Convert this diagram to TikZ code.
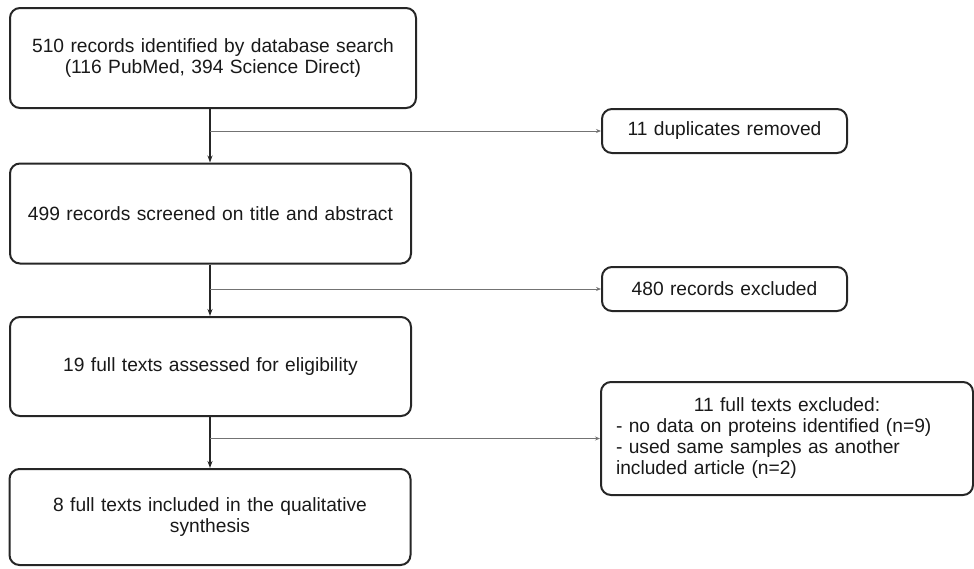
\documentclass[tikz,border=0pt]{standalone}
\usepackage{fontspec}
\setmainfont{Liberation Sans}
\usetikzlibrary{arrows.meta, positioning}
\tikzset{
x=1pt, y=-1pt, % one unit is one pixel of the sketch, y runs down
box/.style={draw=black!85, line width=2pt, rounded corners=10pt, align=center,
  text=black!90, font=\fontsize{19.2}{21}\selectfont}, % every box
mainbox/.style={box, minimum width=401pt, minimum height=100pt, text width=385pt}, % left column
sidebox/.style={box, minimum width=245pt, minimum height=44pt, text width=235pt}, % right column
down/.style={-{Stealth[length=7pt,width=5pt]}, line width=1.3pt, draw=black!85}, % main flow
aside/.style={-{Stealth[length=5pt,width=4pt]}, line width=0.8pt, draw=black!55}, % branch out
}

\begin{document}
\begin{tikzpicture}
    \useasboundingbox (0,0) rectangle (974,568);
    \node[mainbox, minimum width=406pt] (search) at (213,58) {510 records identified by database search\\(116 PubMed, 394 Science Direct)};
    \node[mainbox] (screen) at (210.5,213.5) {499 records screened on title and abstract};
    \node[mainbox, minimum height=99pt] (full) at (210.5,366.5) {19 full texts assessed for eligibility};
    \node[mainbox, minimum height=96pt] (incl) at (210,517) {8 full texts included in the qualitative\\synthesis};
    \node[sidebox] (dupl) at (724.5,131) {11 duplicates removed};
    \node[sidebox] (excl) at (724.5,289) {480 records excluded};
    \node[box, align=left, text width=342pt, inner xsep=15pt, minimum height=113pt] (ftex) at (787,438.5)
      {\makebox[342pt]{11 full texts excluded:}\\
       - no data on proteins identified (n=9)\\
       - used same samples as another\\
       included article (n=2)};
    \coordinate (s1) at (210,131);
    \coordinate (s2) at (210,289);
    \coordinate (s3) at (210,438.5);
    \draw[down] (search.south -| s1) -- (screen.north -| s1);
    \draw[down] (screen.south -| s2) -- (full.north -| s2);
    \draw[down] (full.south -| s3) -- (incl.north -| s3);
    \draw[aside] (s1) -- (dupl);
    \draw[aside] (s2) -- (excl);
    \draw[aside] (s3) -- (ftex);
\end{tikzpicture}
\end{document}
